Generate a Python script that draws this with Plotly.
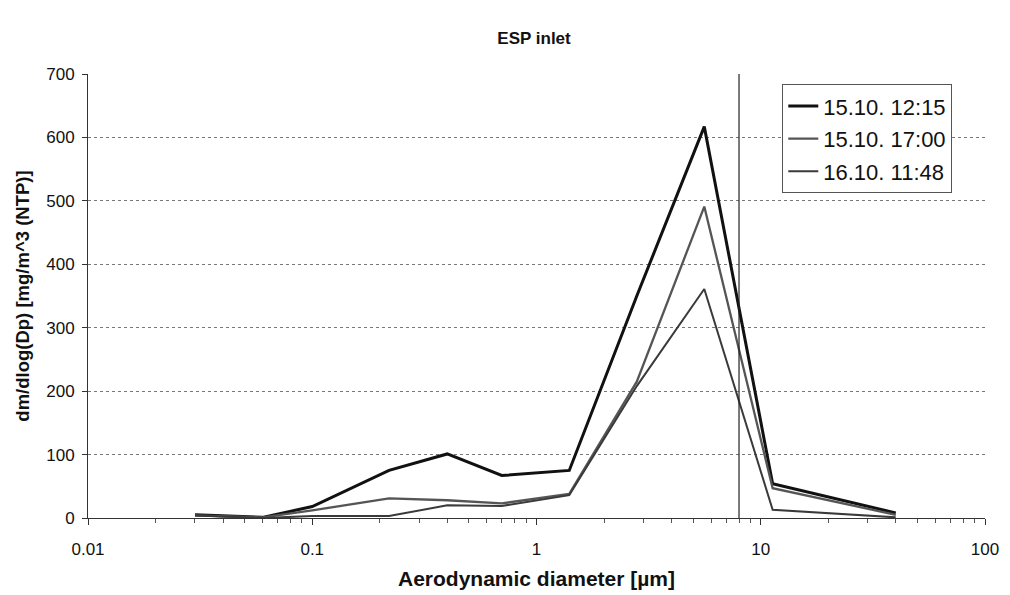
import plotly.graph_objects as go

# Data
diameters = [0.03, 0.06, 0.1, 0.22, 0.4, 0.7, 1.4, 2.8, 5.6, 11.3, 40]
s_1215 = [5, 1, 18, 75, 101, 67, 75, 350, 617, 54, 8]
s_1700 = [4, 1, 12, 31, 28, 23, 38, 215, 491, 47, 5]
s_1148 = [4, 0, 3, 3, 20, 19, 36, 208, 361, 13, 1]
series_names = ["15.10. 12:15", "15.10. 17:00", "16.10. 11:48"]
x_tick_vals = [0.01, 0.1, 1, 10, 100]
x_tick_text = ["0.01", "0.1", "1", "10", "100"]
x_minor_vals = [m * d for d in [0.01, 0.1, 1, 10] for m in range(2, 10)]
cutoff_diameter = 8.0

narrow = "Liberation Sans Narrow, Arial Narrow, Liberation Sans, Arial, sans-serif"
regular = "Liberation Sans, Arial, sans-serif"

fig = go.Figure()
styles = [("#111111", 3.0), ("#555555", 2.3), ("#3a3a3a", 2.0)]
for i, (name, ys, (col, w)) in enumerate(zip(series_names, [s_1215, s_1700, s_1148], styles)):
    fig.add_trace(go.Scatter(x=diameters, y=ys, mode="lines", name=name, legendgroup=f"g{i}",
                             line=dict(color=col, width=w)))

fig.add_shape(type="line", xref="x", yref="paper", x0=cutoff_diameter, x1=cutoff_diameter,
              y0=0, y1=1, line=dict(color="#222222", width=1.2))

fig.update_layout(
    width=1002, height=587,
    margin=dict(l=80, r=25, t=66, b=77),
    paper_bgcolor="white", plot_bgcolor="white",
    title=dict(text="<b>ESP inlet</b>", x=0.525, xanchor="center", y=0.949, yanchor="middle",
               font=dict(family=narrow, size=17, color="#111")),
    showlegend=True,
    legend=dict(x=0.774, y=0.977, xanchor="left", yanchor="top",
                bgcolor="white", bordercolor="#555", borderwidth=1,
                font=dict(family=regular, size=22, color="#111"),
                itemwidth=30, tracegroupgap=1),
    xaxis=dict(type="log", range=[-2, 2], tickvals=x_tick_vals, ticktext=x_tick_text,
               showgrid=False, zeroline=False, showline=True, linecolor="#333", linewidth=1,
               ticks="outside", ticklen=6, tickcolor="#333", ticklabelstandoff=10,
               minor=dict(tickvals=x_minor_vals, ticks="outside", ticklen=4, tickcolor="#555",
                          showgrid=False),
               automargin=False,
               tickfont=dict(family=regular, size=17, color="#111"),
               title=dict(text="<b>Aerodynamic diameter [µm]</b>", standoff=12,
                          font=dict(family=regular, size=21, color="#111"))),
    yaxis=dict(range=[0, 700], dtick=100, showgrid=True, gridcolor="#777",
               griddash="dot", gridwidth=1, zeroline=False, showline=True,
               linecolor="#333", linewidth=1, ticks="outside", ticklen=5, tickcolor="#333",
               ticklabelstandoff=4, automargin=False,
               tickfont=dict(family=regular, size=17, color="#111"),
               title=dict(text="<b>dm/dlog(Dp) [mg/m^3 (NTP)]</b>", standoff=11,
                          font=dict(family=regular, size=18.5, color="#111"))),
)

fig.write_html("out.html")
